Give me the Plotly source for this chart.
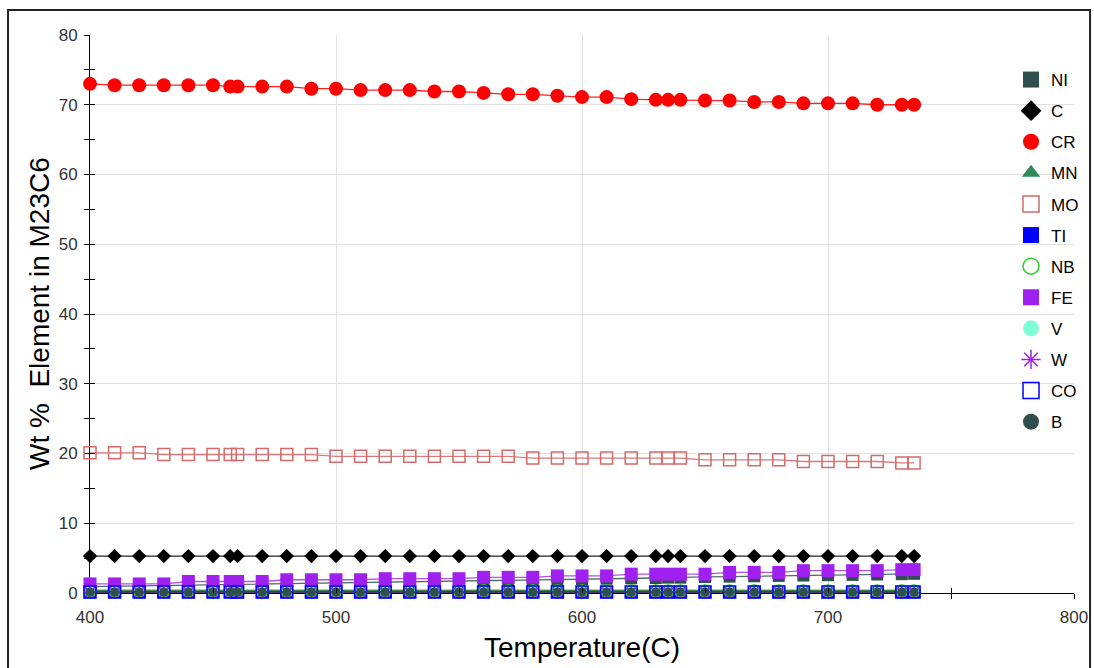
import plotly.graph_objects as go

# Temperatures (C) of the equilibrium steps
temperature = [400, 410, 420, 430, 440, 450, 457, 460, 470, 480, 490, 500, 510, 520,
               530, 540, 550, 560, 570, 580, 590, 600, 610, 620, 630, 635, 640, 650,
               660, 670, 680, 690, 700, 710, 720, 730, 735]

# Wt % of each element in M23C6
ni = [0.9, 0.95, 1.0, 1.05, 1.1, 1.15, 1.2, 1.2, 1.25, 1.3, 1.35, 1.4, 1.45, 1.5,
      1.55, 1.6, 1.65, 1.7, 1.8, 1.85, 1.9, 2.0, 2.05, 2.1, 2.15, 2.2, 2.2, 2.3,
      2.35, 2.4, 2.45, 2.5, 2.55, 2.6, 2.65, 2.7, 2.75]
c = [5.3, 5.3, 5.3, 5.3, 5.3, 5.3, 5.3, 5.3, 5.3, 5.3, 5.3, 5.3, 5.3, 5.3,
     5.3, 5.3, 5.3, 5.3, 5.3, 5.3, 5.3, 5.3, 5.3, 5.3, 5.3, 5.3, 5.3, 5.3,
     5.3, 5.3, 5.3, 5.3, 5.3, 5.3, 5.3, 5.3, 5.3]
cr = [73.0, 72.8, 72.8, 72.8, 72.8, 72.8, 72.6, 72.6, 72.6, 72.6, 72.3, 72.3, 72.1, 72.1,
      72.1, 71.9, 71.9, 71.7, 71.5, 71.5, 71.3, 71.1, 71.1, 70.8, 70.7, 70.7, 70.7, 70.6,
      70.6, 70.4, 70.4, 70.2, 70.2, 70.2, 70.0, 70.0, 70.0]
mn = [0.4, 0.4, 0.4, 0.4, 0.4, 0.4, 0.4, 0.4, 0.4, 0.4, 0.4, 0.4, 0.4, 0.4,
      0.4, 0.4, 0.4, 0.4, 0.4, 0.4, 0.4, 0.4, 0.4, 0.4, 0.4, 0.4, 0.4, 0.4,
      0.4, 0.4, 0.4, 0.4, 0.4, 0.4, 0.4, 0.4, 0.4]
mo = [20.1, 20.1, 20.1, 19.85, 19.85, 19.85, 19.85, 19.85, 19.85, 19.85, 19.85, 19.6, 19.6, 19.6,
      19.6, 19.6, 19.6, 19.6, 19.6, 19.35, 19.35, 19.35, 19.35, 19.35, 19.35, 19.35, 19.35, 19.1,
      19.1, 19.1, 19.1, 18.85, 18.85, 18.85, 18.85, 18.65, 18.65]
ti = [0.1, 0.1, 0.1, 0.1, 0.1, 0.1, 0.1, 0.1, 0.1, 0.1, 0.1, 0.1, 0.1, 0.1,
      0.1, 0.1, 0.1, 0.1, 0.1, 0.1, 0.1, 0.1, 0.1, 0.1, 0.1, 0.1, 0.1, 0.1,
      0.1, 0.1, 0.1, 0.1, 0.1, 0.1, 0.1, 0.1, 0.1]
nb = [0.3, 0.3, 0.3, 0.3, 0.3, 0.3, 0.3, 0.3, 0.3, 0.3, 0.3, 0.3, 0.3, 0.3,
      0.3, 0.3, 0.3, 0.3, 0.3, 0.3, 0.3, 0.3, 0.3, 0.3, 0.3, 0.3, 0.3, 0.3,
      0.3, 0.3, 0.3, 0.3, 0.3, 0.3, 0.3, 0.3, 0.3]
fe = [1.3, 1.3, 1.3, 1.3, 1.65, 1.65, 1.65, 1.65, 1.65, 1.9, 1.9, 1.9, 1.9, 2.05,
      2.05, 2.05, 2.05, 2.25, 2.25, 2.25, 2.45, 2.45, 2.45, 2.7, 2.7, 2.7, 2.7, 2.7,
      2.95, 2.95, 2.95, 3.2, 3.2, 3.2, 3.2, 3.35, 3.35]
v = [0.25, 0.25, 0.25, 0.25, 0.25, 0.25, 0.25, 0.25, 0.25, 0.25, 0.25, 0.25, 0.25, 0.25,
     0.25, 0.25, 0.25, 0.25, 0.25, 0.25, 0.25, 0.25, 0.25, 0.25, 0.25, 0.25, 0.25, 0.25,
     0.25, 0.25, 0.25, 0.25, 0.25, 0.25, 0.25, 0.25, 0.25]
w = [0.05, 0.05, 0.05, 0.05, 0.05, 0.05, 0.05, 0.05, 0.05, 0.05, 0.05, 0.05, 0.05, 0.05,
     0.05, 0.05, 0.05, 0.05, 0.05, 0.05, 0.05, 0.05, 0.05, 0.05, 0.05, 0.05, 0.05, 0.05,
     0.05, 0.05, 0.05, 0.05, 0.05, 0.05, 0.05, 0.05, 0.05]
co = [0.15, 0.15, 0.15, 0.15, 0.15, 0.15, 0.15, 0.15, 0.15, 0.15, 0.15, 0.15, 0.15, 0.15,
      0.15, 0.15, 0.15, 0.15, 0.15, 0.15, 0.15, 0.15, 0.15, 0.15, 0.15, 0.15, 0.15, 0.15,
      0.15, 0.15, 0.15, 0.15, 0.15, 0.15, 0.15, 0.15, 0.15]
b = [0.15, 0.15, 0.15, 0.15, 0.15, 0.15, 0.15, 0.15, 0.15, 0.15, 0.15, 0.15, 0.15, 0.15,
     0.15, 0.15, 0.15, 0.15, 0.15, 0.15, 0.15, 0.15, 0.15, 0.15, 0.15, 0.15, 0.15, 0.15,
     0.15, 0.15, 0.15, 0.15, 0.15, 0.15, 0.15, 0.15, 0.15]

elements = ["NI", "C", "CR", "MN", "MO", "TI", "NB", "FE", "V", "W", "CO", "B"]
values = [ni, c, cr, mn, mo, ti, nb, fe, v, w, co, b]

# symbol, marker colour, marker size, line colour, outline width
styles = {
    "NI": ("square", "#2F4F4F", 12, "#4f6b6b", 0),
    "C": ("diamond", "#000000", 11, "#222222", 0),
    "CR": ("circle", "#FF0000", 14, "#FF2020", 0),
    "MN": ("triangle-up", "#2E8B57", 12, "#5d9c7a", 0),
    "MO": ("square-open", "#D46A6A", 12, "#D87A7A", 1.5),
    "TI": ("square", "#0000FF", 12, "#3030FF", 0),
    "NB": ("circle-open", "#32CD32", 12, "#32CD32", 1.5),
    "FE": ("square", "#A020F0", 13, "#B050F0", 0),
    "V": ("circle", "#7FFFD4", 10, "#444444", 0),
    "W": ("asterisk-open", "#A020F0", 10, "#A020F0", 1.5),
    "CO": ("square-open", "#0000FF", 12, "#333333", 1.5),
    "B": ("circle", "#2F4F4F", 9, "#2F4F4F", 0),
}

fig = go.Figure()

for name, ys in zip(elements, values):
    sym, mcol, msize, lcol, olw = styles[name]
    marker = dict(symbol=sym, color=mcol, size=msize)
    if olw:
        marker["line"] = dict(color=mcol, width=olw)
    fig.add_trace(go.Scatter(
        x=temperature, y=ys, mode="lines+markers", name=name,
        line=dict(color=lcol, width=1.3), marker=marker,
        cliponaxis=False, showlegend=False,
    ))

# legend entries: markers only
for i, name in enumerate(elements):
    sym, mcol, msize, lcol, olw = styles[name]
    marker = dict(symbol=sym, color=mcol, size=16)
    if olw:
        marker["line"] = dict(color=mcol, width=1.5)
    fig.add_trace(go.Scatter(
        x=[None], y=[None], mode="markers", name=name, marker=marker,
        legendgroup="g%d" % i, showlegend=True, hoverinfo="skip",
    ))

# empty traces so the overlay tick axes are drawn
fig.add_trace(go.Scatter(x=[None], y=[None], xaxis="x2", yaxis="y", showlegend=False))
fig.add_trace(go.Scatter(x=[None], y=[None], xaxis="x", yaxis="y2", showlegend=False))

tick_font = dict(family="Arial, Liberation Sans, sans-serif", size=17, color="#333333")
grid = "#e2e2e2"

fig.update_layout(
    width=1094, height=668, autosize=False,
    margin=dict(l=90, r=20, t=35, b=75, autoexpand=False),
    paper_bgcolor="white", plot_bgcolor="white",
    font=dict(family="Arial, Liberation Sans, sans-serif", color="#000000"),
    xaxis=dict(
        range=[400, 800], tick0=400, dtick=100, showgrid=True, gridcolor=grid, gridwidth=1,
        zeroline=False, showline=True, linecolor="black", linewidth=1, automargin=False,
        ticks="outside", ticklen=5, tickcolor="black", tickfont=tick_font,
        ticklabelstandoff=4, layer="below traces",
        minor=dict(tick0=400, dtick=50, ticks="outside", ticklen=5, tickcolor="black", showgrid=False),
    ),
    xaxis2=dict(
        overlaying="x", anchor="y", side="bottom", range=[400, 800], tick0=400, dtick=100,
        showgrid=False, zeroline=False, showline=False, showticklabels=False, automargin=False,
        ticks="inside", ticklen=5, tickcolor="black",
        minor=dict(tick0=400, dtick=50, ticks="inside", ticklen=5, tickcolor="black", showgrid=False),
    ),
    yaxis=dict(
        range=[0, 80], tick0=0, dtick=10, showgrid=True, gridcolor=grid, gridwidth=1,
        zeroline=False, showline=True, linecolor="black", linewidth=1, automargin=False,
        ticks="outside", ticklen=5, tickcolor="black", tickfont=tick_font,
        ticklabelstandoff=3, layer="below traces",
        minor=dict(tick0=0, dtick=5, ticks="outside", ticklen=5, tickcolor="black", showgrid=False),
    ),
    yaxis2=dict(
        overlaying="y", anchor="x", side="left", range=[0, 80], tick0=0, dtick=10,
        showgrid=False, zeroline=False, showline=False, showticklabels=False, automargin=False,
        ticks="inside", ticklen=5, tickcolor="black",
        minor=dict(tick0=0, dtick=5, ticks="inside", ticklen=5, tickcolor="black", showgrid=False),
    ),
    legend=dict(
        x=0.936, y=0.9516, xanchor="left", yanchor="top",
        bgcolor="rgba(0,0,0,0)", borderwidth=0, tracegroupgap=6,
        font=dict(family="Arial, Liberation Sans, sans-serif", size=17, color="#000000"),
    ),
    annotations=[
        dict(text="Temperature(C)", xref="paper", yref="paper", x=0.5, y=-0.0968,
             xanchor="center", yanchor="middle", showarrow=False,
             font=dict(size=28, color="#000000")),
        dict(text="Wt %\u00a0\u00a0Element in M23C6", xref="paper", yref="paper",
             x=-0.0518, y=0.5, xanchor="center", yanchor="middle", textangle=-90,
             showarrow=False, font=dict(size=28, color="#000000")),
    ],
    shapes=[
        dict(type="rect", xref="paper", yref="paper", x0=-0.0833, x1=1.0163,
             y0=-0.1416, y1=1.0448, line=dict(color="#222222", width=2), layer="below"),
    ],
)

fig.write_html("out.html")
